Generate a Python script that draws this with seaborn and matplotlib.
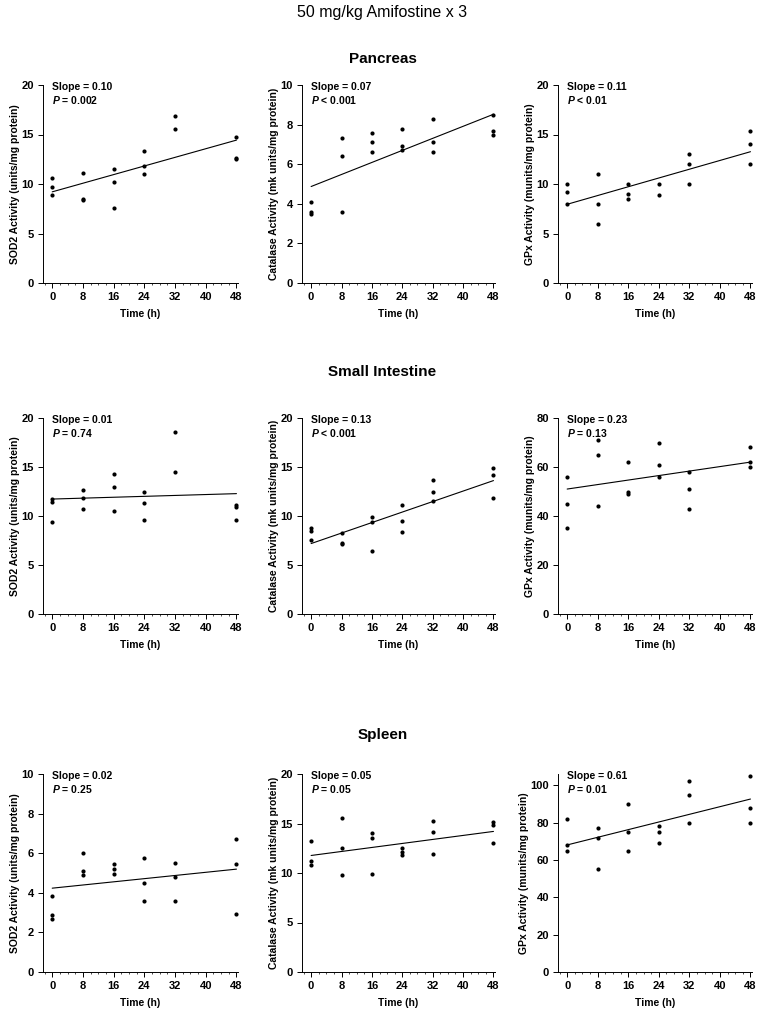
import numpy as np
import pandas as pd
import matplotlib
matplotlib.use("Agg")
import matplotlib.pyplot as plt
from matplotlib.ticker import MultipleLocator
import seaborn as sns

# sampling times, three animals per time point
time_h = [0, 0, 0, 8, 8, 8, 16, 16, 16, 24, 24, 24, 32, 32, 32, 48, 48, 48]

# Pancreas
pancreas_sod2 = [10.6, 9.7, 8.9, 11.1, 8.5, 8.35, 11.5, 10.2, 7.6, 13.3, 11.8, 11.0, 16.9, 15.6, np.nan, 14.7, 12.6, 12.5]
pancreas_cat = [4.1, 3.6, 3.5, 7.3, 6.4, 3.6, 7.6, 7.1, 6.6, 7.8, 6.9, 6.7, 8.3, 7.1, 6.6, 8.5, 7.7, 7.5]
pancreas_gpx = [10.0, 9.2, 8.0, 11.0, 8.0, 6.0, 10.0, 9.0, 8.5, 10.0, 8.9, np.nan, 13.0, 12.0, 10.0, 15.4, 14.0, 12.0]

# Small intestine
si_sod2 = [11.7, 11.4, 9.35, 12.7, 11.8, 10.7, 14.3, 13.0, 10.5, 12.4, 11.3, 9.55, 18.6, 14.5, np.nan, 11.15, 10.9, 9.6]
si_cat = [8.8, 8.45, 7.6, 8.3, 7.25, 7.1, 9.9, 9.4, 6.4, 11.15, 9.5, 8.4, 13.7, 12.45, 11.55, 14.85, 14.15, 11.85]
si_gpx = [56, 45, 35, 71, 65, 44, 62, 50, 49, 70, 61, 56, 58, 51, 43, 68, 62, 60]

# Spleen
spleen_sod2 = [3.85, 2.9, 2.7, 6.0, 5.1, 4.9, 5.45, 5.2, 4.95, 5.75, 4.5, 3.6, 5.5, 4.8, 3.6, 6.7, 5.45, 2.95]
spleen_cat = [13.2, 11.2, 10.85, 15.6, 12.5, 9.8, 14.0, 13.5, 9.9, 12.55, 12.1, 11.8, 15.3, 14.15, 11.9, 15.15, 14.8, 13.0]
spleen_gpx = [82, 68, 65, 77, 72, 55, 90, 75, 65, 78, 75, 69, 102, 95, 80, 105, 88, 80]

organs = ["Pancreas", "Small Intestine", "Spleen"]
ylabels = ["SOD2 Activity (units/mg protein)",
           "Catalase Activity (mk units/mg protein)",
           "GPx Activity (munits/mg protein)"]
series = [[pancreas_sod2, pancreas_cat, pancreas_gpx],
          [si_sod2, si_cat, si_gpx],
          [spleen_sod2, spleen_cat, spleen_gpx]]
slopes = [["0.10", "0.07", "0.11"], ["0.01", "0.13", "0.23"], ["0.02", "0.05", "0.61"]]
pvals = [["= 0.002", "< 0.001", "< 0.01"], ["= 0.74", "< 0.001", "= 0.13"], ["= 0.25", "= 0.05", "= 0.01"]]
ymax = [[20, 10, 20], [20, 20, 80], [10, 20, 106]]
ystep = [[5, 2, 5], [5, 5, 20], [2, 5, 20]]
xticks = [0, 8, 16, 24, 32, 40, 48]

sns.set_style("ticks")
plt.rcParams["font.family"] = ["Liberation Sans", "DejaVu Sans"]
plt.rcParams["mathtext.fontset"] = "custom"
plt.rcParams["mathtext.it"] = "Liberation Sans:bold:italic"
plt.rcParams["mathtext.rm"] = "Liberation Sans:bold"
for key in ["text.color", "axes.labelcolor", "xtick.color", "ytick.color", "axes.edgecolor"]:
    plt.rcParams[key] = "black"

fig = plt.figure(figsize=(7.65, 10.18), dpi=100)

W, H = 765, 1018
col_left = [43, 302, 558]
col_width = [195, 193, 194]
row_top = [85, 418, 774]
row_height = [198, 196, 198]
title_y = [59, 372, 735]

fig.text(0.5, 1 - 12 / H, "50 mg/kg Amifostine x 3", ha="center", va="center", fontsize=11.5)

for r in range(3):
    fig.text(0.5, 1 - title_y[r] / H, organs[r], ha="center", va="center",
             fontsize=11, fontweight="bold")
    for c in range(3):
        ax = fig.add_axes([col_left[c] / W, 1 - (row_top[r] + row_height[r]) / H,
                           col_width[c] / W, row_height[r] / H])
        df = pd.DataFrame({"time": time_h, "activity": series[r][c]})
        sns.regplot(data=df, x="time", y="activity", ax=ax, ci=None, truncate=True,
                    color="black",
                    scatter_kws={"s": 9, "linewidths": 0, "alpha": 1},
                    line_kws={"linewidth": 0.8})
        ax.set_xlim(-2.4, 48.4)
        ax.set_ylim(0, ymax[r][c])
        ax.set_xticks(xticks)
        ax.yaxis.set_major_locator(MultipleLocator(ystep[r][c]))
        ax.xaxis.set_minor_locator(MultipleLocator(2))
        ax.tick_params(axis="both", which="major", direction="out", length=3.5,
                       width=0.7, labelsize=8, pad=3)
        ax.tick_params(axis="x", which="minor", direction="out", length=1.5, width=0.5)
        for lab in ax.get_xticklabels() + ax.get_yticklabels():
            lab.set_fontweight("bold")
        ax.set_xlabel("Time (h)", fontsize=7.5, fontweight="bold", labelpad=5)
        ax.set_ylabel(ylabels[c], fontsize=7.5, fontweight="bold", labelpad=1)
        for side in ["left", "bottom"]:
            ax.spines[side].set_linewidth(0.7)
        sns.despine(ax=ax)
        ax.text(0.045, 1.015, f"Slope = {slopes[r][c]}", transform=ax.transAxes,
                ha="left", va="top", fontsize=7.5, fontweight="bold")
        ax.text(0.045, 0.955, f"$P$ {pvals[r][c]}", transform=ax.transAxes,
                ha="left", va="top", fontsize=7.5, fontweight="bold")

fig.savefig("out.png", dpi=100)
